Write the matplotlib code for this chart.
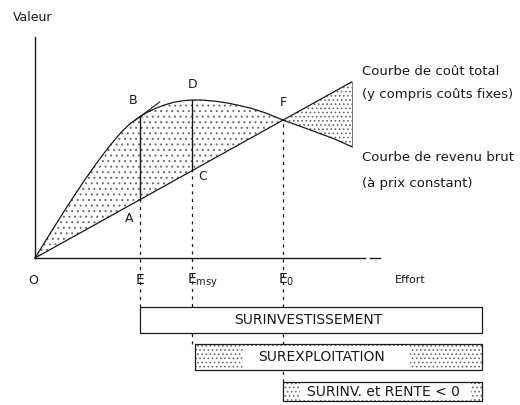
import numpy as np
import matplotlib
matplotlib.use("Agg")
import matplotlib.pyplot as plt
from matplotlib.patches import Rectangle

# ---- data (effort / value in arbitrary units) ----
rev_effort = [0, 5, 10, 15, 20, 25, 30, 35, 38.5, 42.3, 45.5, 49, 52.5, 56, 59.5, 63,
              67, 72, 77, 82, 87, 93, 100, 110, 120, 127.7]
rev_value = [0, 8.1, 16.1, 23.9, 31.4, 38.5, 45.1, 51.0, 54.3, 57.0, 58.9, 60.5, 61.8, 62.8, 63.4, 63.7,
             63.7, 63.3, 62.6, 61.6, 60.4, 58.5, 55.6, 52, 48.3, 44.9]
cost_effort = [0, 127.7]
cost_value = [0, 71.0]

E_pts = {"E": 42.3, "Emsy": 63.2, "E0": 100.0}
point_labels = ["A", "B", "C", "D", "F"]
effort_labels = ["O", "E", "E$_{\\mathrm{msy}}$", "E$_{\\mathrm{0}}$", "Effort"]
box_labels = ["SURINVESTISSEMENT", "SUREXPLOITATION", "SURINV. et RENTE < 0"]
curve_labels = ["Courbe de coût total", "(y compris coûts fixes)",
                "Courbe de revenu brut", "(à prix constant)"]

# ---- figure ----
S = 2.48  # px per unit
plt.rcParams['hatch.linewidth'] = 0.7
plt.rcParams['mathtext.fontset'] = 'dejavusans'
fig = plt.figure(figsize=(5.2, 4.05), dpi=100)
ax = fig.add_axes([0, 0, 1, 1])
ax.set_xlim(-35 / S, 485 / S)
ax.set_ylim(-147 / S, 258 / S)
ax.axis('off')

LC = '#1a1a1a'
HC = '#6a6a6a'
FONT = 'DejaVu Sans'

rev_e = np.array(rev_effort)
rev_v = np.array(rev_value)
cost_at = np.interp(rev_e, cost_effort, cost_value)

# shaded regions
m1 = rev_e <= E_pts["E0"]
ax.fill_between(rev_e[m1], cost_at[m1], rev_v[m1], facecolor='none',
                edgecolor=HC, hatch='...', linewidth=0)
m2 = rev_e >= E_pts["E0"]
ax.fill_between(rev_e[m2], rev_v[m2], cost_at[m2], facecolor='none',
                edgecolor=HC, hatch='....', linewidth=0)

# curves
ax.plot(rev_e, rev_v, color=LC, lw=0.9)
ax.plot(cost_effort, cost_value, color=LC, lw=0.9)
# closing edge of the right triangle
ax.plot([rev_e[-1], rev_e[-1]], [rev_v[-1], cost_value[-1]], color='#777', lw=0.7)

# axes
ax.plot([0, 0], [0, 89], color=LC, lw=1.0)
ax.plot([0, 133], [0, 0], color=LC, lw=1.0)
ax.plot([135, 139], [0, 0], color=LC, lw=1.0)

# tangent at B
eB = E_pts["E"]
vB = np.interp(eB, rev_e, rev_v)
ax.plot([eB - 2, eB + 8], [vB - 1.5, vB + 5.9], color=LC, lw=0.8)

# vertical lines
box_top = [-19.8, -34.7, -50.0]
box_bot = [-30.2, -45.2, -57.7]
for key, top in zip(["E", "Emsy", "E0"], box_top):
    e = E_pts[key]
    vr = np.interp(e, rev_e, rev_v)
    vc = np.interp(e, cost_effort, cost_value)
    if key != "E0":
        ax.plot([e, e], [vc, vr], color=LC, lw=1.0)
    ax.plot([e, e], [top, vc], color=LC, lw=0.9, ls=(0, (2.5, 3.5)))

# boxes
x_right = 180.2
box_left = [E_pts["E"], E_pts["Emsy"] + 1.2, E_pts["E0"]]
box_fill = [False, True, True]
text_x = [110, 115.7, 140.3]
bg_l = [None, (243 - 35) / S, (300 - 35) / S]
bg_r = [None, (410 - 35) / S, (471 - 35) / S]
for i in range(3):
    h = box_top[i] - box_bot[i]
    w = x_right - box_left[i]
    ax.add_patch(Rectangle((box_left[i], box_bot[i]), w, h,
                           facecolor='white', edgecolor='none', zorder=2))
    if box_fill[i]:
        ax.add_patch(Rectangle((box_left[i], box_bot[i]), w, h,
                               facecolor='none', edgecolor=HC, hatch='....',
                               lw=0, zorder=2))
        ax.add_patch(Rectangle((bg_l[i], box_bot[i] + 0.6), bg_r[i] - bg_l[i], h - 1.2,
                               facecolor='white', edgecolor='none', zorder=3))
    ax.add_patch(Rectangle((box_left[i], box_bot[i]), w, h,
                           facecolor='none', edgecolor=LC, lw=0.9, zorder=4))
    ax.text(text_x[i], (box_top[i] + box_bot[i]) / 2, box_labels[i],
            ha='center', va='center', fontsize=10, family=FONT, color=LC, zorder=5)

# point labels
pl_pos = {"A": (38.0, 16.1), "B": (39.5, 63.7), "C": (67.5, 32.7),
          "D": (63.7, 69.8), "F": (100.0, 62.5)}
for lab in point_labels:
    x, y = pl_pos[lab]
    ax.text(x, y, lab, ha='center', va='center', fontsize=9, family=FONT, color=LC)

# effort labels
ey = -8.9
ax.text(-0.8, ey, effort_labels[0], ha='center', va='center', fontsize=9, family=FONT, color=LC)
ax.text(E_pts["E"], ey, effort_labels[1], ha='center', va='center', fontsize=10, family=FONT, color=LC)
ax.text(E_pts["Emsy"] - 2, ey - 0.4, effort_labels[2], ha='left', va='center', fontsize=10, family=FONT, color=LC)
ax.text(E_pts["E0"] - 2, ey, effort_labels[3], ha='left', va='center', fontsize=10, family=FONT, color=LC)
ax.text(145, ey, effort_labels[4], ha='left', va='center', fontsize=8, family=FONT, color=LC)

# axis title
ax.text(-8.9, 96.8, "Valeur", ha='left', va='center', fontsize=9, family=FONT, color=LC)

# curve labels
for txt, y in zip(curve_labels, [75.4, 66.1, 40.7, 30.2]):
    ax.text(131.9, y, txt, ha='left', va='center', fontsize=9.5, family=FONT, color=LC)

fig.savefig("out.png", dpi=100)
